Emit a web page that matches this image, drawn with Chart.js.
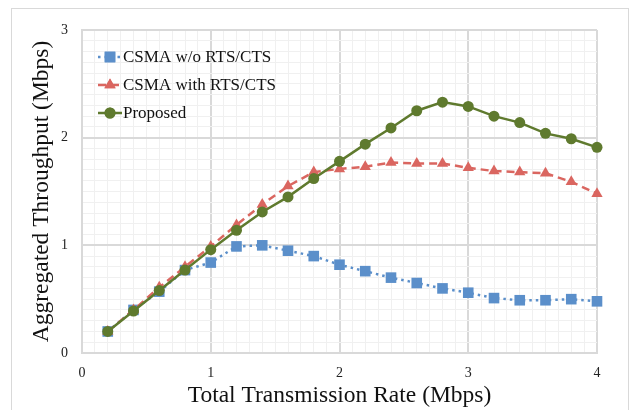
<!DOCTYPE html>
<html><head><meta charset="utf-8">
<script src="https://cdn.jsdelivr.net/npm/chart.js@4/dist/chart.umd.min.js"></script>
<style>html,body{margin:0;padding:0;background:#fff}#wrap{width:634px;height:410px;position:relative}</style>
</head><body><div id="wrap"><canvas id="c" width="634" height="410"></canvas></div>
<script>
const rates = [0.2,0.4,0.6,0.8,1.0,1.2,1.4,1.6,1.8,2.0,2.2,2.4,2.6,2.8,3.0,3.2,3.4,3.6,3.8,4.0];
const csmaNoRts = [0.20,0.40,0.57,0.77,0.84,0.99,1.00,0.95,0.90,0.82,0.76,0.70,0.65,0.60,0.56,0.51,0.49,0.49,0.50,0.48];
const csmaRts = [0.20,0.40,0.61,0.80,0.99,1.19,1.38,1.55,1.68,1.71,1.73,1.77,1.76,1.76,1.72,1.69,1.68,1.67,1.59,1.48];
const proposed = [0.20,0.39,0.58,0.77,0.96,1.14,1.31,1.45,1.62,1.78,1.94,2.09,2.25,2.33,2.29,2.20,2.14,2.04,1.99,1.91];
const seriesNames = ['CSMA w/o RTS/CTS','CSMA with RTS/CTS','Proposed'];
const xTitle = 'Total Transmission Rate (Mbps)';
const yTitle = 'Aggregated Throughput (Mbps)';

const pts = arr => rates.map((x,i)=>({x:x,y:arr[i]}));
const FONT = '"Liberation Serif","Times New Roman",serif';
const BLUE='#5B8FCA', RED='#DA6660', GREEN='#5F7A2E';

const ds = [
  {label:seriesNames[0],data:pts(csmaNoRts),borderColor:BLUE,backgroundColor:BLUE,borderWidth:2.5,borderDash:[2.5,4],pointStyle:'rect',pointRadius:7.5,pointBorderWidth:0,order:2,clip:false},
  {label:seriesNames[1],data:pts(csmaRts),borderColor:RED,backgroundColor:RED,borderWidth:2.5,borderDash:[8,5],pointStyle:'triangle',pointRadius:6.5,pointBorderWidth:0,order:1,clip:false},
  {label:seriesNames[2],data:pts(proposed),borderColor:GREEN,backgroundColor:GREEN,borderWidth:2.5,pointStyle:'circle',pointRadius:5.5,pointBorderWidth:0,order:0,clip:false}
];

const isMajor = v => Math.abs(v - Math.round(v)) < 1e-6;

const frame = {id:'frame',beforeDraw(c){const x=c.ctx;x.save();x.strokeStyle='#d9d9d9';x.lineWidth=1;x.strokeRect(11.5,8.5,617,420);x.restore();}};
const legendPlug = {id:'leg',afterDatasetsDraw(c){
  const x=c.ctx; x.save();
  const rows=[57,85,113];
  c.data.datasets.forEach((d,i)=>{
    const y=rows[i];
    x.strokeStyle=d.borderColor; x.lineWidth=d.borderWidth; x.setLineDash(d.borderDash||[]);
    x.beginPath(); x.moveTo(98,y); x.lineTo(122,y); x.stroke(); x.setLineDash([]);
    x.fillStyle=d.backgroundColor;
    Chart.helpers.drawPoint(x,{pointStyle:d.pointStyle,radius:d.pointRadius,borderWidth:0},110,y);
    x.fill();
    x.fillStyle='#111'; x.font='17px '+FONT; x.textBaseline='middle'; x.textAlign='left';
    x.fillText(d.label,123,y+1);
  });
  x.restore();
}};

new Chart(document.getElementById('c'),{
  type:'line',
  data:{datasets:ds},
  options:{
    responsive:false,animation:false,
    layout:{padding:{left:0,right:37,top:30,bottom:0}},
    plugins:{legend:{display:false},tooltip:{enabled:false}},
    scales:{
      x:{type:'linear',min:0,max:4,
        afterFit(s){s.height=57;},
        ticks:{stepSize:0.1,autoSkip:false,maxRotation:0,padding:12,color:'#222',font:{family:FONT,size:14},
          callback:v=>isMajor(v)?String(Math.round(v)):''},
        grid:{drawTicks:false,color:c=>isMajor(c.tick.value)?'#d9d9d9':'#f0f0f0',lineWidth:c=>isMajor(c.tick.value)?2:1},
        border:{color:'#d9d9d9',width:2},
        title:{display:true,text:xTitle,color:'#111',font:{family:FONT,size:23.5},padding:{top:0,bottom:0}}
      },
      y:{min:0,max:3,
        afterFit(s){s.width=82;},
        ticks:{stepSize:0.1,autoSkip:false,padding:14,color:'#222',font:{family:FONT,size:14},
          callback:v=>isMajor(v)?String(Math.round(v)):''},
        grid:{drawTicks:false,color:c=>isMajor(c.tick.value)?'#d9d9d9':'#f0f0f0',lineWidth:c=>isMajor(c.tick.value)?2:1},
        border:{color:'#d9d9d9',width:2},
        title:{display:true,text:yTitle,color:'#111',font:{family:FONT,size:23.5},padding:{top:28,bottom:0}}
      }
    }
  },
  plugins:[frame,legendPlug]
});
</script></body></html>
